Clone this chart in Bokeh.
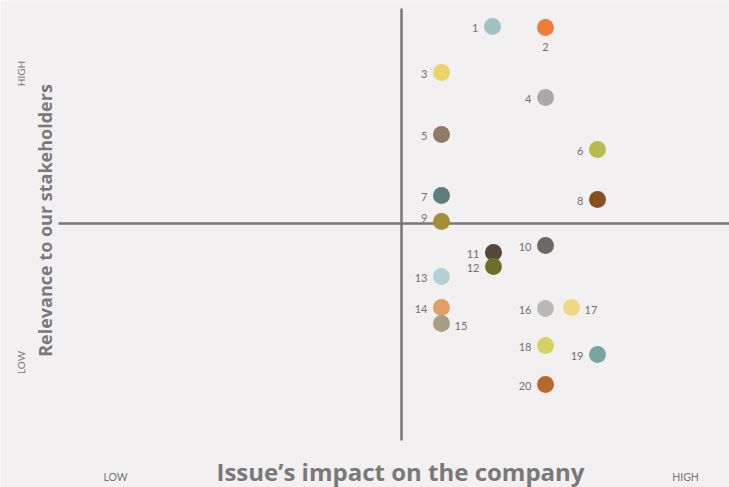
import math
from bokeh.plotting import figure
from bokeh.models import ColumnDataSource, Range1d, Label
from bokeh.core.properties import value
from bokeh.embed import file_html
from bokeh.resources import INLINE

# ---- data ----
issue_ids = [str(i) for i in range(1, 21)]
impact = [9.1, 14.4, 4.0, 14.4, 4.0, 19.6, 4.0, 19.6, 4.0, 14.4,
          9.2, 9.2, 4.0, 4.0, 4.0, 14.4, 17.0, 14.4, 19.6, 14.4]
relevance = [19.7, 19.6, 15.1, 12.6, 8.9, 7.4, 2.8, 2.4, 0.2, -2.2,
             -2.9, -4.3, -5.3, -8.4, -10.0, -8.5, -8.4, -12.2, -13.1, -16.1]
colors = ["#9fc3c3", "#ef7d3a", "#e8d46a", "#a9aaa8", "#8f7b63", "#bcb94e",
          "#5b7e7d", "#86501f", "#a58f34", "#6a6a64", "#564838", "#6e6e2a",
          "#b4d0d0", "#e3a064", "#a79e86", "#b9b9b5", "#edd983", "#d4d266",
          "#78a5a2", "#b8692a"]
axis_low_high = ["LOW", "HIGH"]
x_title = "Issue\u2019s impact on the company"
y_title = "Relevance to our stakeholders"

# ---- label placement (style) ----
placement = {"2": "below", "15": "right", "17": "right", "9": "leftup"}
xo, yo, al = [], [], []
for i in issue_ids:
    pl = placement.get(i, "left")
    if pl == "below":
        xo.append(0); yo.append(19); al.append("center")
    elif pl == "right":
        xo.append(13); yo.append(2); al.append("left")
    elif pl == "leftup":
        xo.append(-14); yo.append(-4); al.append("right")
    else:
        xo.append(-14); yo.append(1); al.append("right")

src = ColumnDataSource(dict(x=impact, y=relevance, id=issue_ids, c=colors,
                            xo=xo, yo=yo, al=al))

BG = "#f2f0f1"
W, H = 729, 487
p = figure(width=W, height=H, output_backend="svg", toolbar_location=None,
           x_range=Range1d(-40.1, 32.8), y_range=Range1d(-26.4, 22.3),
           min_border=0, background_fill_color=BG, border_fill_color=BG,
           outline_line_color=None)
p.xaxis.visible = False
p.yaxis.visible = False
p.xgrid.visible = False
p.ygrid.visible = False

def dx(px):
    return (px - 401) / 10.0

def dy(py):
    return (223 - py) / 10.0

# quadrant lines
p.segment(x0=[0, dx(58)], y0=[dy(8), 0], x1=[0, dx(729)], y1=[dy(440), 0],
          line_color="#777777", line_width=2.5)

p.scatter("x", "y", source=src, size=17, fill_color="c", line_color=None)
p.text("x", "y", text="id", source=src, x_offset="xo", y_offset="yo",
       text_align="al", text_baseline="middle", text_font=value("Lato"),
       text_font_size="11px", text_color="#707070")

TC = "#7a797a"
p.add_layout(Label(x=dx(20), y=dy(73), text=axis_low_high[1], angle=math.pi / 2,
                   text_align="center", text_baseline="middle",
                   text_font="Lato", text_font_size="10px", text_color="#777777"))
p.add_layout(Label(x=dx(20), y=dy(362), text=axis_low_high[0], angle=math.pi / 2,
                   text_align="center", text_baseline="middle",
                   text_font="Lato", text_font_size="10px", text_color="#777777"))
p.add_layout(Label(x=dx(115), y=dy(476), text=axis_low_high[0],
                   text_align="center", text_baseline="middle",
                   text_font="Lato", text_font_size="10.5px", text_color="#777777"))
p.add_layout(Label(x=dx(685), y=dy(476), text=axis_low_high[1],
                   text_align="center", text_baseline="middle",
                   text_font="Lato", text_font_size="10.5px", text_color="#777777"))
p.add_layout(Label(x=dx(44), y=dy(220), text=y_title, angle=math.pi / 2,
                   text_align="center", text_baseline="middle",
                   text_font="Open Sans", text_font_style="bold",
                   text_font_size="18px", text_color=TC))
p.add_layout(Label(x=dx(400), y=dy(471), text=x_title,
                   text_align="center", text_baseline="middle",
                   text_font="Open Sans", text_font_style="bold",
                   text_font_size="24px", text_color=TC))

open("out.html", "w").write(file_html(p, INLINE))
